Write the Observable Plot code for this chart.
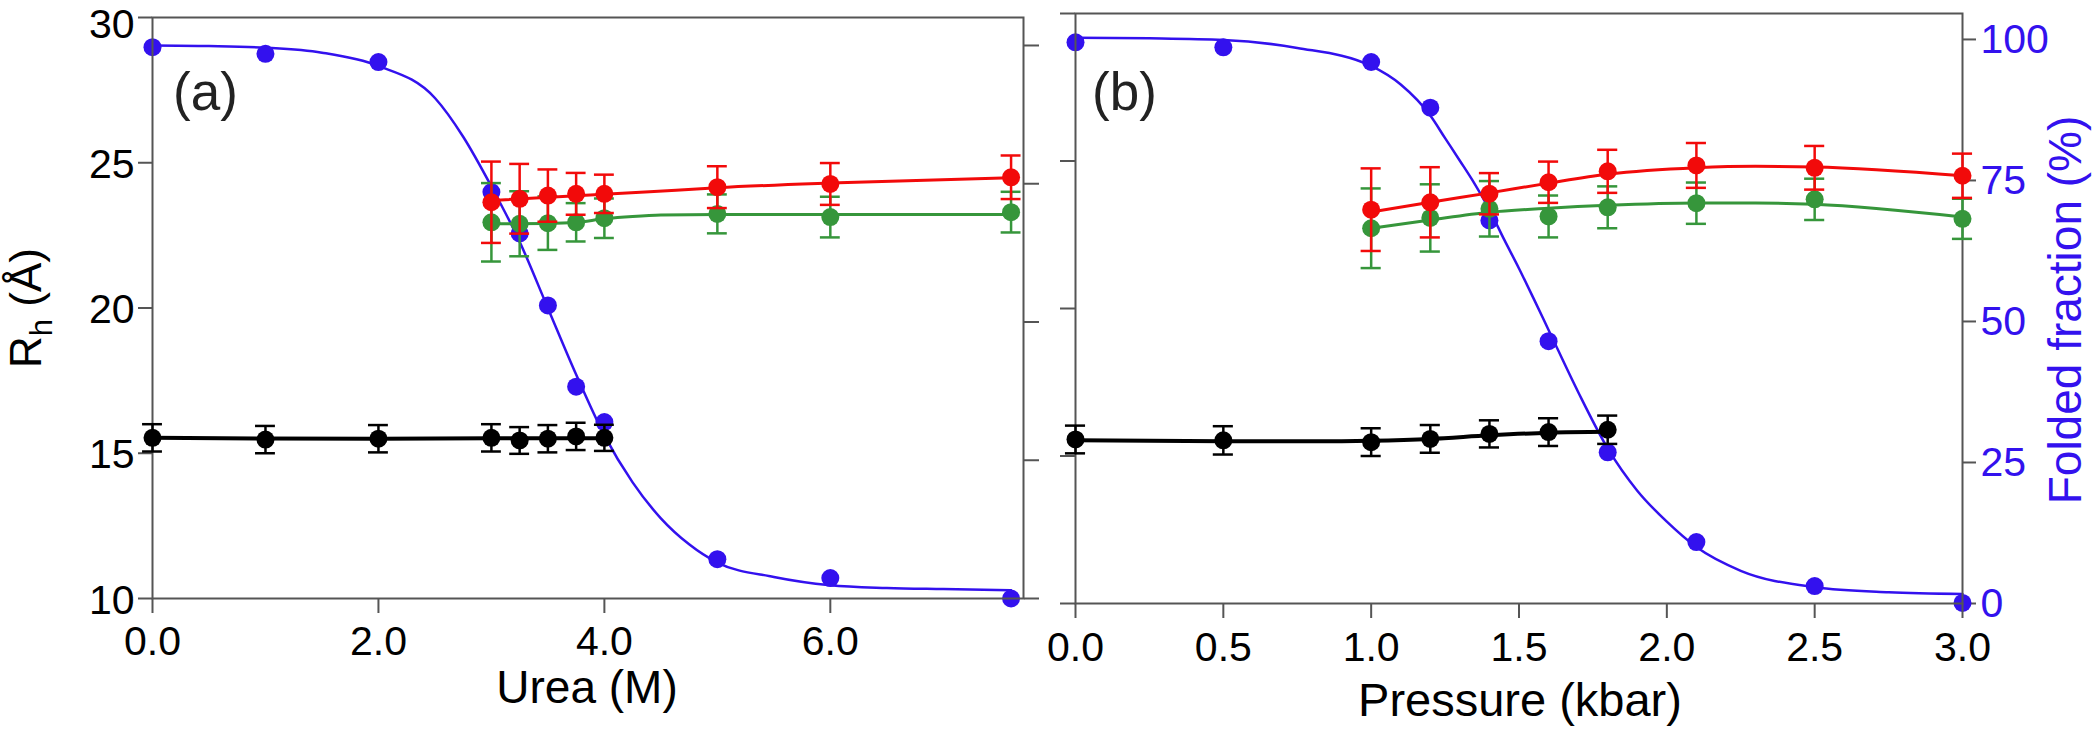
<!DOCTYPE html>
<html><head><meta charset="utf-8">
<script src="https://cdn.jsdelivr.net/npm/d3@7"></script>
<script src="https://cdn.jsdelivr.net/npm/@observablehq/plot@0.6"></script>
<style>
html,body{margin:0;padding:0;background:#fff;}
#fig{position:relative;width:2100px;height:736px;overflow:hidden;background:#fff;}
</style></head><body><div id="fig"></div>
<script>
// ---------- Panel (a): urea ----------
const ureaBlueX = [0, 1, 2, 3, 3.25, 3.5, 3.75, 4, 5, 6, 7.6];
const ureaBlueF = [99.7, 98.5, 97.0, 73.5, 66.0, 53.0, 38.3, 31.9, 7.1, 3.7, 0.0];
const ureaBlueFitX = [0, 0.5, 1, 1.5, 2, 2.5, 2.75, 3, 3.25, 3.5, 3.75, 4, 4.25, 4.5, 4.75, 5, 5.5, 6, 6.5, 7, 7.6];
const ureaBlueFitF = [100.0, 99.9, 99.6, 98.7, 96.3, 90.5, 83.5, 74.5, 64.5, 52.5, 40.5, 29.5, 21.0, 14.5, 9.8, 6.5, 3.9, 2.4, 1.9, 1.7, 1.5];

const ureaBlackX = [0, 1, 2, 3, 3.25, 3.5, 3.75, 4];
const ureaBlackY = [15.53, 15.47, 15.50, 15.53, 15.44, 15.50, 15.58, 15.53];
const ureaBlackE = [0.47, 0.47, 0.47, 0.47, 0.46, 0.47, 0.47, 0.45];
const ureaBlackFitX = [0, 1, 2, 3, 4];
const ureaBlackFitY = [15.53, 15.51, 15.50, 15.52, 15.52];

const ureaRGX = [3, 3.25, 3.5, 3.75, 4, 5, 6, 7.6];
const ureaRedY = [23.64, 23.76, 23.87, 23.93, 23.93, 24.16, 24.27, 24.50];
const ureaRedE = [1.40, 1.20, 0.90, 0.72, 0.66, 0.72, 0.72, 0.75];
const ureaGreenY = [22.95, 22.90, 22.92, 22.95, 23.09, 23.24, 23.13, 23.30];
const ureaGreenE = [1.35, 1.12, 0.92, 0.66, 0.68, 0.67, 0.70, 0.70];
const ureaRedFitX = [3, 4.4, 5, 6, 7.6];
const ureaRedFitY = [23.70, 24.00, 24.14, 24.30, 24.48];
const ureaGreenFitX = [3, 3.5, 3.75, 4, 4.25, 4.5, 5, 7.6];
const ureaGreenFitY = [22.90, 22.91, 22.95, 23.07, 23.15, 23.20, 23.22, 23.22];

// ---------- Panel (b): pressure ----------
const presBlueX = [0, 0.5, 1.0, 1.2, 1.4, 1.6, 1.8, 2.1, 2.5, 3.0];
const presBlueF = [99.5, 98.6, 96.0, 87.9, 67.9, 46.5, 26.8, 10.9, 3.1, 0.1];
const presBlueFitX = [0, 0.25, 0.5, 0.75, 1.0, 1.1, 1.2, 1.25, 1.3, 1.35, 1.4, 1.45, 1.5, 1.55, 1.6, 1.7, 1.8, 1.9, 2.0, 2.1, 2.25, 2.5, 2.75, 3.0];
const presBlueFitF = [100.3, 100.2, 99.9, 98.5, 95.3, 92.0, 86.5, 82.5, 78.5, 74.4, 69.8, 64.5, 59.4, 54.0, 48.5, 37.5, 27.5, 20.0, 14.5, 10.0, 5.8, 2.9, 2.0, 1.7];

const presBlackX = [0, 0.5, 1.0, 1.2, 1.4, 1.6, 1.8];
const presBlackY = [15.56, 15.53, 15.47, 15.58, 15.75, 15.81, 15.89];
const presBlackE = [0.47, 0.48, 0.47, 0.47, 0.46, 0.47, 0.48];
const presBlackFitX = [0, 0.5, 0.8, 1.0, 1.2, 1.4, 1.6, 1.8];
const presBlackFitY = [15.53, 15.50, 15.50, 15.52, 15.58, 15.70, 15.79, 15.82];

const presRGX = [1.0, 1.2, 1.4, 1.6, 1.8, 2.1, 2.5, 3.0];
const presRedY = [23.35, 23.60, 23.89, 24.28, 24.65, 24.85, 24.77, 24.50];
const presRedE = [1.40, 1.19, 0.70, 0.70, 0.73, 0.76, 0.74, 0.75];
const presGreenY = [22.72, 23.07, 23.38, 23.12, 23.43, 23.57, 23.70, 23.04];
const presGreenE = [1.35, 1.14, 0.94, 0.71, 0.71, 0.70, 0.70, 0.68];
const presRedFitX = [1.0, 1.2, 1.4, 1.6, 1.8, 2.1, 2.3, 2.5, 3.0];
const presRedFitY = [23.27, 23.60, 23.92, 24.25, 24.55, 24.77, 24.82, 24.80, 24.50];
const presGreenFitX = [1.0, 1.2, 1.4, 1.6, 1.8, 2.1, 2.3, 2.5, 3.0];
const presGreenFitY = [22.72, 23.00, 23.26, 23.40, 23.50, 23.58, 23.58, 23.53, 23.10];

// axis ticks / labels
const rhTicks = [10, 15, 20, 25, 30];
const rhTicksLow = [10, 15, 20, 25];
const rhTicksTop = [30];
const fracTicks = [0, 25, 50, 75, 100];
const ureaTicks = [0, 2, 4, 6];
const presTicks = [0, 0.5, 1.0, 1.5, 2.0, 2.5, 3.0];

// ---------- styling ----------
const FONT = '"Liberation Sans", Arial, Helvetica, sans-serif';
const AX = "#555";
const BLUE = "#3311ee", RED = "#f20a0a", GREEN = "#36963b", BLACK = "#000";
const TICKFS = 41;

const zip = (xs, ys, es) => xs.map((x, i) => ({x, y: ys[i], e: es ? es[i] : 0}));

function errMarks(d, color, cap) {
  return [
    Plot.ruleX(d, {x: "x", y1: p => p.y - p.e, y2: p => p.y + p.e, stroke: color, strokeWidth: 2.5}),
    Plot.ruleY(d, {y: p => p.y + p.e, x1: p => p.x - cap, x2: p => p.x + cap, stroke: color, strokeWidth: 2.5}),
    Plot.ruleY(d, {y: p => p.y - p.e, x1: p => p.x - cap, x2: p => p.x + cap, stroke: color, strokeWidth: 2.5})
  ];
}
function series(pts, fit, color, cap, lw) {
  return [
    Plot.line(fit, {x: "x", y: "y", stroke: color, strokeWidth: lw, curve: "monotone-x"}),
    ...errMarks(pts, color, cap),
    Plot.dot(pts, {x: "x", y: "y", r: 9, fill: color, stroke: "none"})
  ];
}
const baseStyle = {background: "transparent", fontFamily: FONT, fontSize: TICKFS + "px", color: "#000", overflow: "visible"};

const fig = document.getElementById("fig");
function place(svg, left) {
  svg.style.position = "absolute";
  svg.style.left = left + "px";
  svg.style.top = "0px";
  svg.style.maxWidth = "none";
  fig.appendChild(svg);
}

// ----- Panel a: folded fraction layer -----
const aFrac = Plot.plot({
  width: 1050, height: 736,
  marginLeft: 152, marginRight: 27, marginTop: 17, marginBottom: 138,
  x: {domain: [0, 7.71], axis: null},
  y: {domain: [0, 105.06]},
  style: baseStyle,
  marks: [
    Plot.axisY({anchor: "right", ticks: fracTicks, tickSize: 15, stroke: AX, strokeWidth: 2, tickFormat: () => "", label: null}),
    Plot.line(zip(ureaBlueFitX, ureaBlueFitF), {x: "x", y: "y", stroke: BLUE, strokeWidth: 2.5, curve: "monotone-x"}),
    Plot.dot(zip(ureaBlueX, ureaBlueF), {x: "x", y: "y", r: 9, fill: BLUE, stroke: "none"})
  ]
});
place(aFrac, 0);

// ----- Panel a: Rh layer -----
const aRh = Plot.plot({
  width: 1050, height: 736,
  marginLeft: 152, marginRight: 27, marginTop: 17, marginBottom: 138,
  x: {domain: [0, 7.71]},
  y: {domain: [10, 30]},
  style: baseStyle,
  marks: [
    Plot.frame({stroke: AX, strokeWidth: 2}),
    // tick lines only
    Plot.axisY({ticks: rhTicks, tickSize: 14, stroke: AX, strokeWidth: 2, tickFormat: () => "", label: null}),
    // tick labels only (top label nudged down to stay inside the page, as in the reference)
    Plot.axisY({ticks: rhTicksLow, tickSize: 0, tickPadding: 18, stroke: "none", fill: "#000", fontSize: TICKFS, dy: 2, label: null}),
    Plot.axisY({ticks: rhTicksTop, tickSize: 0, tickPadding: 18, stroke: "none", fill: "#000", fontSize: TICKFS, dy: 7.5, label: null}),
    Plot.axisX({ticks: ureaTicks, tickSize: 15, tickPadding: 12, stroke: AX, strokeWidth: 2, fill: "#000", fontSize: TICKFS, tickFormat: d3.format(".1f"), label: null}),
    ...series(zip(ureaRGX, ureaGreenY, ureaGreenE), zip(ureaGreenFitX, ureaGreenFitY), GREEN, 0.088, 3),
    ...series(zip(ureaRGX, ureaRedY, ureaRedE), zip(ureaRedFitX, ureaRedFitY), RED, 0.088, 3),
    ...series(zip(ureaBlackX, ureaBlackY, ureaBlackE), zip(ureaBlackFitX, ureaBlackFitY), BLACK, 0.088, 4)
  ]
});
place(aRh, 0);

// ----- Panel b: folded fraction layer -----
const bFrac = Plot.plot({
  width: 1050, height: 736,
  marginLeft: 25, marginRight: 138, marginTop: 13, marginBottom: 133,
  x: {domain: [0, 3], axis: null},
  y: {domain: [0, 104.6]},
  style: baseStyle,
  marks: [
    Plot.axisY({anchor: "right", ticks: fracTicks, tickSize: 13, tickPadding: 5, stroke: AX, strokeWidth: 2, fill: BLUE, fontSize: TICKFS, tickFormat: d => String(d), label: null}),
    Plot.line(zip(presBlueFitX, presBlueFitF), {x: "x", y: "y", stroke: BLUE, strokeWidth: 2.5, curve: "monotone-x"}),
    Plot.dot(zip(presBlueX, presBlueF), {x: "x", y: "y", r: 9, fill: BLUE, stroke: "none"})
  ]
});
place(bFrac, 1050);

// ----- Panel b: Rh layer -----
const bRh = Plot.plot({
  width: 1050, height: 736,
  marginLeft: 25, marginRight: 138, marginTop: 13, marginBottom: 133,
  x: {domain: [0, 3]},
  y: {domain: [10, 30]},
  style: baseStyle,
  marks: [
    Plot.frame({stroke: AX, strokeWidth: 2}),
    Plot.axisY({ticks: rhTicks, tickSize: 15, stroke: AX, strokeWidth: 2, tickFormat: () => "", label: null}),
    Plot.axisX({ticks: presTicks, tickSize: 15, tickPadding: 13, stroke: AX, strokeWidth: 2, fill: "#000", fontSize: TICKFS, tickFormat: d3.format(".1f"), label: null}),
    ...series(zip(presRGX, presGreenY, presGreenE), zip(presGreenFitX, presGreenFitY), GREEN, 0.034, 3),
    ...series(zip(presRGX, presRedY, presRedE), zip(presRedFitX, presRedFitY), RED, 0.034, 3),
    ...series(zip(presBlackX, presBlackY, presBlackE), zip(presBlackFitX, presBlackFitY), BLACK, 0.034, 4)
  ]
});
place(bRh, 1050);

// ----- text overlay -----
const ov = d3.select(fig).append("svg")
  .attr("width", 2100).attr("height", 736)
  .style("position", "absolute").style("left", "0px").style("top", "0px")
  .style("font-family", FONT);

ov.append("text").attr("x", 173).attr("y", 110).attr("font-size", 53).attr("fill", "#222").text("(a)");
ov.append("text").attr("x", 1092).attr("y", 110).attr("font-size", 53).attr("fill", "#222").text("(b)");
ov.append("text").attr("x", 587).attr("y", 703).attr("font-size", 46).attr("text-anchor", "middle").text("Urea (M)");
ov.append("text").attr("x", 1520).attr("y", 716).attr("font-size", 47).attr("text-anchor", "middle").text("Pressure (kbar)");

const rh = ov.append("text").attr("transform", "translate(41,308) rotate(-90)")
  .attr("font-size", 44).attr("text-anchor", "middle");
rh.append("tspan").text("R");
rh.append("tspan").attr("font-size", 31).attr("dy", 11).text("h");
rh.append("tspan").attr("dy", -11).text(" (Å)");

ov.append("text").attr("transform", "translate(2081,310) rotate(-90)")
  .attr("font-size", 46).attr("text-anchor", "middle").attr("fill", BLUE)
  .text("Folded fraction (%)");
</script></body></html>
